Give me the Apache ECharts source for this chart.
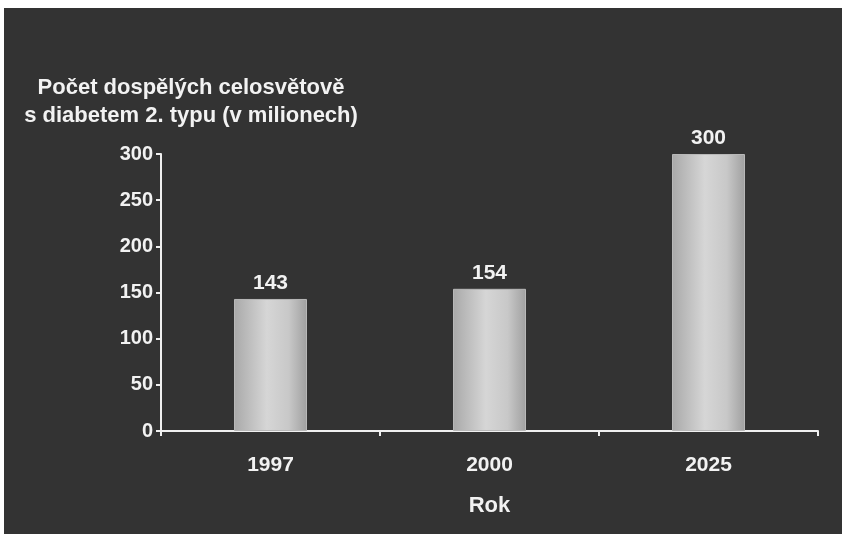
<!DOCTYPE html>
<html>
<head>
<meta charset="utf-8">
<script src="https://cdn.jsdelivr.net/npm/echarts@6/dist/echarts.min.js"></script>
<style>
  html, body { margin: 0; padding: 0; background: #ffffff; }
  #chart { position: absolute; left: 4px; top: 8px; width: 838px; height: 526px; background: #333333; }
</style>
</head>
<body>
<div id="chart"></div>
<script>
const years = ["1997", "2000", "2025"];
const diabetics = [143, 154, 300];
const titleLines = ["Počet dospělých celosvětově", "s diabetem 2. typu (v milionech)"];
const xName = "Rok";

const font = "'Liberation Sans', Arial, sans-serif";
const txt = "#f2f2f2";

const chart = echarts.init(document.getElementById("chart"));

chart.setOption({
  backgroundColor: "#333333",
  animation: false,
  title: {
    text: titleLines.join("\n"),
    left: 182,
    top: 61,
    textAlign: "center",
    textStyle: {
      color: txt,
      fontFamily: font,
      fontWeight: "bold",
      fontSize: 22,
      lineHeight: 28,
    },
  },
  grid: {
    left: 157,
    right: 24,
    top: 146,
    bottom: 103,
  },
  xAxis: {
    type: "category",
    data: years,
    name: xName,
    nameLocation: "middle",
    nameGap: 64,
    nameTextStyle: {
      color: txt,
      fontFamily: font,
      fontWeight: "bold",
      fontSize: 22,
      verticalAlign: "top",
    },
    axisLine: { lineStyle: { color: "#f0f0f0", width: 2 } },
    axisTick: { show: true, length: 5, lineStyle: { color: "#f0f0f0", width: 2 } },
    axisLabel: {
      color: txt,
      fontFamily: font,
      fontWeight: "bold",
      fontSize: 21,
      margin: 24,
    },
  },
  yAxis: {
    type: "value",
    min: 0,
    max: 300,
    interval: 50,
    splitLine: { show: false },
    axisLine: { show: true, lineStyle: { color: "#f0f0f0", width: 2 } },
    axisTick: { show: true, length: 5, lineStyle: { color: "#f0f0f0", width: 2 } },
    axisLabel: {
      color: txt,
      fontFamily: font,
      fontWeight: "bold",
      fontSize: 20,
      margin: 8,
    },
  },
  series: [
    {
      type: "bar",
      data: diabetics,
      barWidth: 73,
      itemStyle: {
        color: new echarts.graphic.LinearGradient(0, 0, 1, 0, [
          { offset: 0, color: "#a9a9a9" },
          { offset: 0.45, color: "#d6d6d6" },
          { offset: 0.75, color: "#c8c8c8" },
          { offset: 1, color: "#a0a0a0" },
        ]),
        borderColor: "#b8b8b8",
        borderWidth: 1,
      },
      label: {
        show: true,
        position: "top",
        distance: 5,
        color: txt,
        fontFamily: font,
        fontWeight: "bold",
        fontSize: 21,
      },
    },
  ],
});
</script>
</body>
</html>
